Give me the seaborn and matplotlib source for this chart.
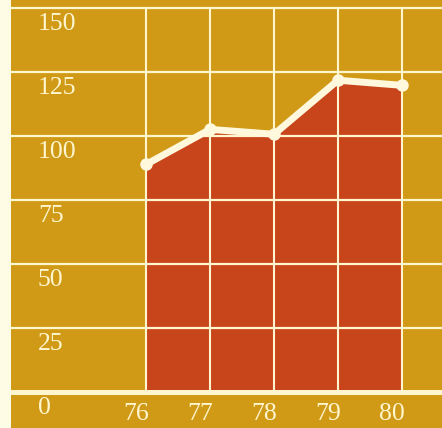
import matplotlib
matplotlib.use("Agg")
import matplotlib.pyplot as plt
import seaborn as sns
import pandas as pd

# data
years = [76, 77, 78, 79, 80]
values = [89, 102.7, 100.8, 121.9, 119.9]
y_ticks = [0, 25, 50, 75, 100, 125, 150]
x_labels = ["76", "77", "78", "79", "80"]

df = pd.DataFrame({"year": years, "value": values})

mustard = "#D09A16"
red = "#C8441A"
cream = "#FFF6CF"
paper = "#FFFCE6"

sns.set_style("white")
plt.rcParams["font.family"] = ["Liberation Serif", "DejaVu Serif"]

fig = plt.figure(figsize=(4.42, 4.28), dpi=100, facecolor=paper)
ax = fig.add_axes([11 / 442, 0, 431 / 442, 1])
ax.set_facecolor(mustard)
for s in ax.spines.values():
    s.set_visible(False)

ax.set_xlim(73.89, 80.625)
ax.set_ylim(-13.95, 153.24)
ax.set_xticks([])
ax.set_yticks([])

# grid
for y in y_ticks:
    ax.axhline(y, color=cream, lw=3.6 if y == 0 else 1.6, zorder=3)
ax.vlines(years, 0, 150, color=cream, lw=1.5, zorder=3)

# area + line
ax.fill_between(df["year"], df["value"], 0, color=red, lw=0, zorder=2)
sns.lineplot(data=df, x="year", y="value", ax=ax, color="#FFF8DC", lw=5,
             marker="o", markersize=9, markeredgewidth=0, zorder=4,
             solid_capstyle="round")
ax.set_xlabel("")
ax.set_ylabel("")

# labels
for y in y_ticks:
    ax.annotate(str(y), xy=(74.31, y), xytext=(0, -11), textcoords="offset points",
                ha="left", va="center", fontsize=18.5, color=cream, zorder=5)
for x, lab in zip(years, x_labels):
    ax.annotate(lab, xy=(x, 0), xytext=(-7.2, -15.5), textcoords="offset points",
                ha="center", va="center", fontsize=18.5, color=cream, zorder=5)

fig.savefig("out.png", dpi=100, facecolor=paper)
